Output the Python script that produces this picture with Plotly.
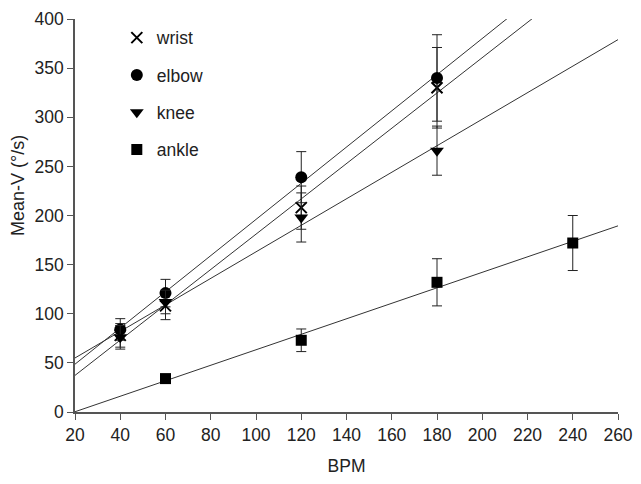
import numpy as np
import plotly.graph_objects as go

bpm_upper = [40, 60, 120, 180]
wrist = [78, 108, 208, 330]
wrist_err = [12, 14, 22, 41]
elbow = [84, 121, 239, 340]
elbow_err = [11, 14, 26, 44]
knee = [76, 112, 198, 266]
knee_err = [12, 12, 25, 25]

bpm_ankle = [60, 120, 180, 240]
ankle = [34, 73, 132, 172]
ankle_err = [3, 11.5, 24, 28]

x_ticks = list(range(20, 261, 20))
y_ticks = list(range(0, 401, 50))

series = [
    ("wrist", bpm_upper, wrist, wrist_err, dict(symbol="x-thin-open", size=11, color="black", line=dict(width=2, color="black"))),
    ("elbow", bpm_upper, elbow, elbow_err, dict(symbol="circle", size=12, color="black")),
    ("knee", bpm_upper, knee, knee_err, dict(symbol="triangle-down", size=12, color="black")),
    ("ankle", bpm_ankle, ankle, ankle_err, dict(symbol="square", size=11, color="black")),
]

fig = go.Figure()
fit_x = np.array([20, 260])
for name, xs, ys, es, mk in series:
    k, b = np.polyfit(xs, ys, 1)
    fig.add_trace(go.Scatter(x=fit_x, y=k * fit_x + b, mode="lines",
                             line=dict(color="#333333", width=1), showlegend=False, hoverinfo="skip"))
for name, xs, ys, es, mk in series:
    fig.add_trace(go.Scatter(x=xs, y=ys, mode="markers", name=name, marker=mk, legendgroup=name,
                             error_y=dict(type="data", array=es, color="#222222", thickness=1, width=5)))

font = "Liberation Sans, Arial, sans-serif"
fs = 17.5
fig.update_layout(
    width=625, height=468,
    margin=dict(l=67, r=15, t=11, b=64),
    plot_bgcolor="white", paper_bgcolor="white",
    font=dict(family=font, size=fs, color="#222222"),
    showlegend=True,
    legend=dict(x=0.077, y=0.998, xanchor="left", yanchor="top", bgcolor="rgba(0,0,0,0)",
                traceorder="grouped", tracegroupgap=11.5, font=dict(size=fs)),
    xaxis=dict(range=[20, 260], tickvals=x_ticks, showgrid=False, zeroline=False, automargin=False,
               showline=True, linecolor="#555555", linewidth=1.5, ticks="outside", ticklen=6,
               tickcolor="#555555", tickfont=dict(size=fs), ticklabeloverflow="allow",
               title=dict(text="BPM", standoff=17, font=dict(size=fs))),
    yaxis=dict(range=[0, 400], tickvals=y_ticks, showgrid=False, zeroline=False, automargin=False,
               showline=True, linecolor="#555555", linewidth=1.5, ticks="outside", ticklen=6,
               tickcolor="#555555", tickfont=dict(size=fs), ticklabeloverflow="allow"),
    annotations=[dict(text="Mean-V (°/s)", textangle=-90, xref="paper", yref="paper",
                      x=-0.106, y=0.576, xanchor="center", yanchor="middle", showarrow=False,
                      font=dict(size=18))],
)
fig.write_html("out.html")
